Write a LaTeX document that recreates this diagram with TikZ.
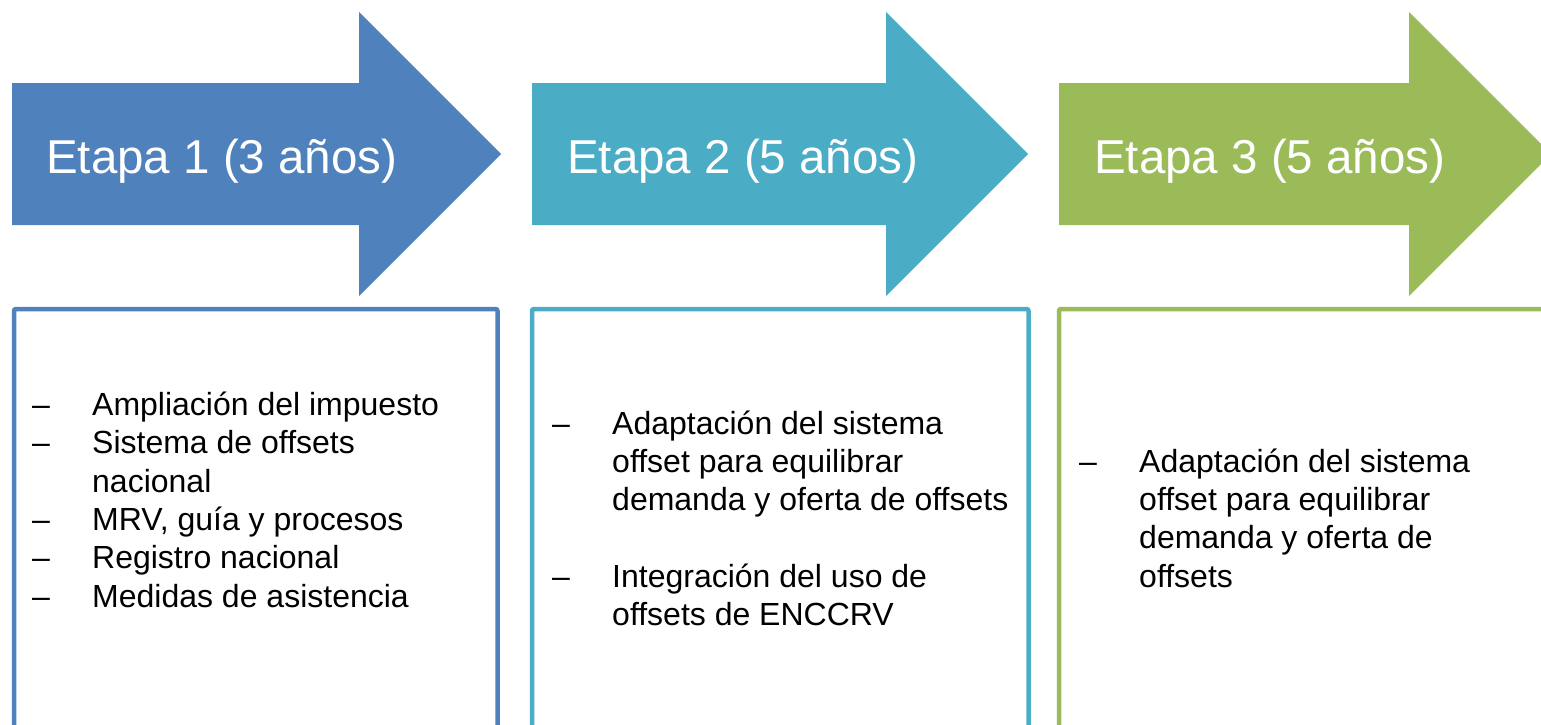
\documentclass[tikz,border=0pt]{standalone}
\usepackage{fontspec}
\setmainfont{Liberation Sans}
\definecolor{etapaA}{HTML}{4F81BD}
\definecolor{etapaB}{HTML}{4BACC6}
\definecolor{etapaC}{HTML}{9BBB59}

\begin{document}
\begin{tikzpicture}[x=1pt,y=-1pt,
  titulo/.style={text=white,font=\fontsize{47.5}{57}\selectfont,anchor=base west,inner sep=0pt},
  punto/.style={font=\fontsize{32}{38.4}\selectfont,anchor=base west,inner sep=0pt},
  caja/.style={line width=4.5pt,rounded corners=2pt}]

\useasboundingbox (0,0) rectangle (1541,725);
\clip (0,0) rectangle (1541,725);

% flechas de las etapas
\fill[etapaA] (12,83) -- (359,83) -- (359,12) -- (501,154) -- (359,296) -- (359,225) -- (12,225) -- cycle;
\fill[etapaB] (532,83) -- (886,83) -- (886,12) -- (1028,154) -- (886,296) -- (886,225) -- (532,225) -- cycle;
\fill[etapaC] (1059,83) -- (1409,83) -- (1409,12) -- (1551,154) -- (1409,296) -- (1409,225) -- (1059,225) -- cycle;

\node[titulo] (t1) at (46,173) {Etapa 1 (3 años)};
\node[titulo] (t2) at (567,173) {Etapa 2 (5 años)};
\node[titulo] (t3) at (1094,173) {Etapa 3 (5 años)};

% cajas
\draw[caja,color=etapaA] (14,760) -- (14,309) -- (497.5,309) -- (497.5,760);
\draw[caja,color=etapaB] (532,760) -- (532,309) -- (1028.5,309) -- (1028.5,760);
\draw[caja,color=etapaC] (1059,760) -- (1059,309) -- (1570,309);

% etapa 1
\node[punto] (d1a) at (32,415) {–};
\node[punto] (p1a) at (92,415) {Ampliación del impuesto};
\node[punto] (d1b) at (32,453) {–};
\node[punto] (p1b) at (92,453) {Sistema de offsets};
\node[punto] (p1c) at (92,492) {nacional};
\node[punto] (d1d) at (32,530) {–};
\node[punto] (p1d) at (92,530) {MRV, guía y procesos};
\node[punto] (d1e) at (32,568) {–};
\node[punto] (p1e) at (92,568) {Registro nacional};
\node[punto] (d1f) at (32,607) {–};
\node[punto] (p1f) at (92,607) {Medidas de asistencia};

% etapa 2
\node[punto] (d2a) at (552,434) {–};
\node[punto] (p2a) at (612,434) {Adaptación del sistema};
\node[punto] (p2b) at (612,472) {offset para equilibrar};
\node[punto] (p2c) at (612,510) {demanda y oferta de offsets};
\node[punto] (d2d) at (552,587) {–};
\node[punto] (p2d) at (612,587) {Integración del uso de};
\node[punto] (p2e) at (612,625) {offsets de ENCCRV};

% etapa 3
\node[punto] (d3a) at (1079,472) {–};
\node[punto] (p3a) at (1139,472) {Adaptación del sistema};
\node[punto] (p3b) at (1139,510) {offset para equilibrar};
\node[punto] (p3c) at (1139,548) {demanda y oferta de};
\node[punto] (p3d) at (1139,587) {offsets};

\end{tikzpicture}
\end{document}
